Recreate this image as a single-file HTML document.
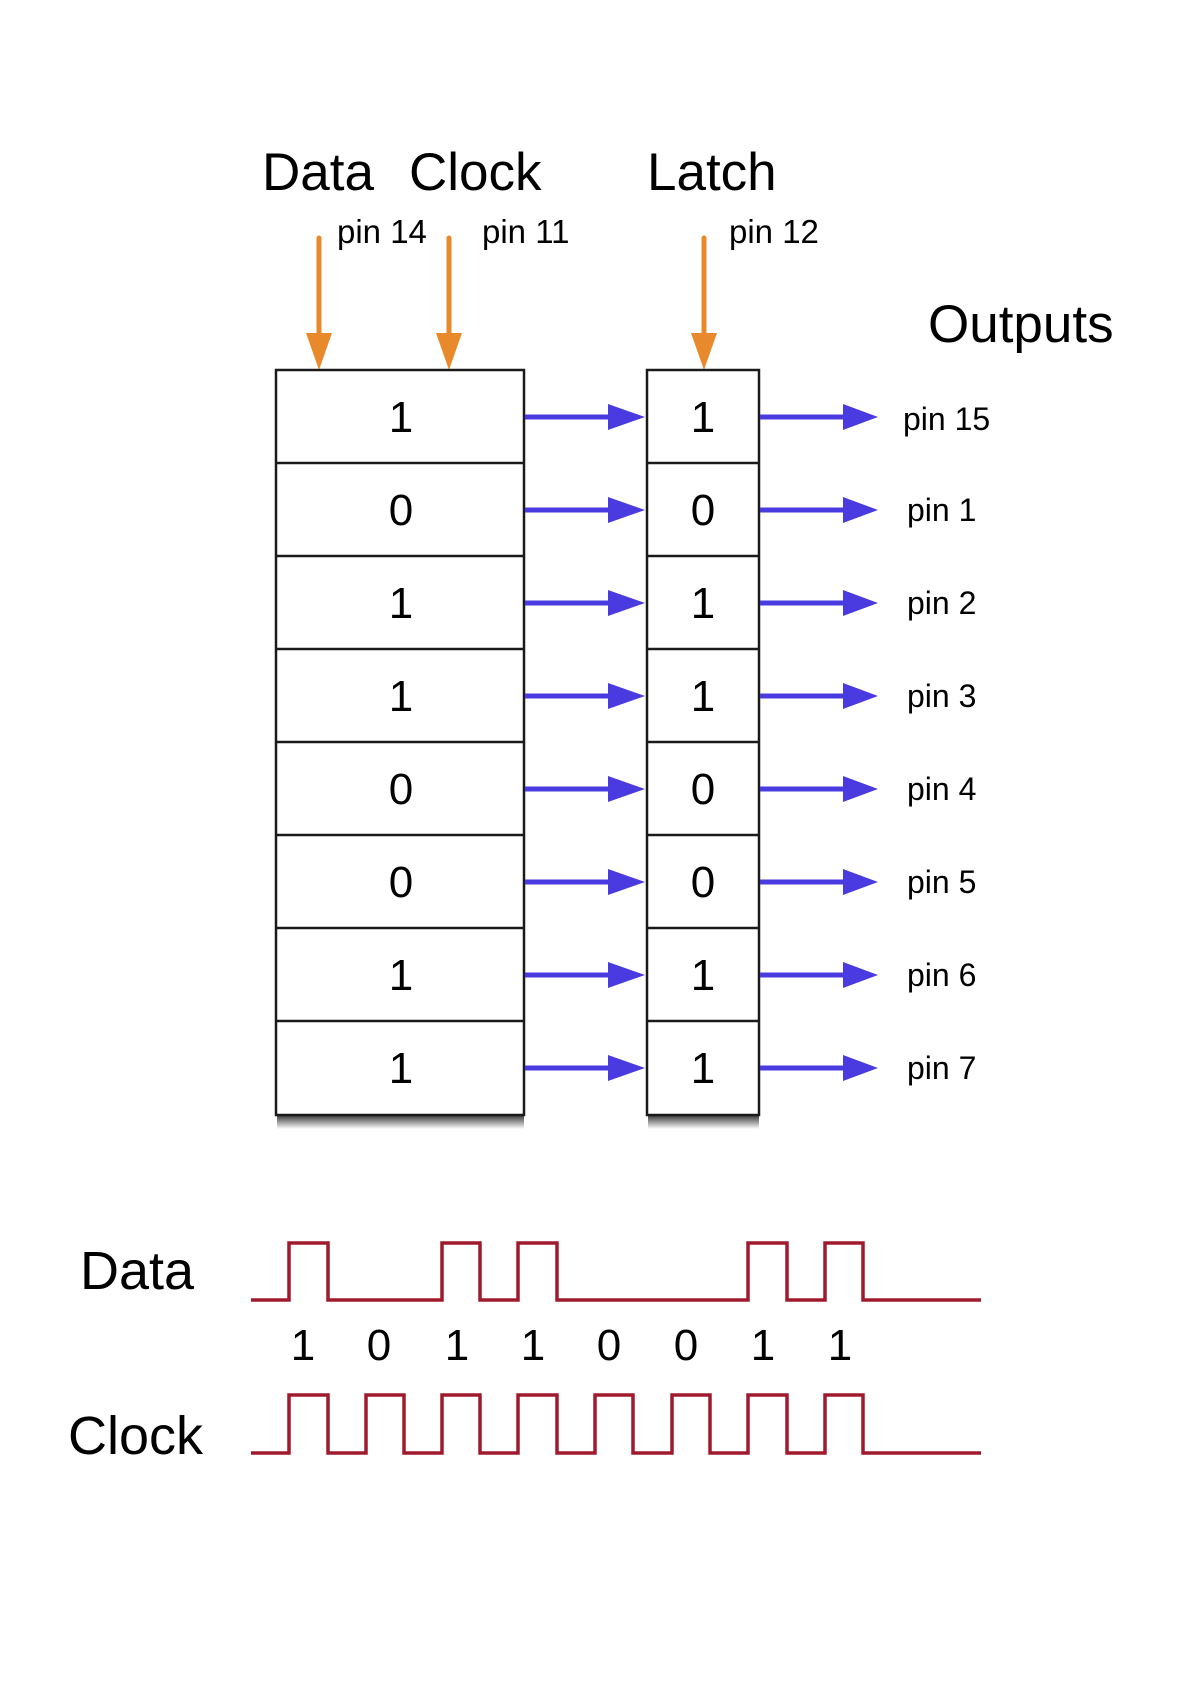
<!DOCTYPE html>
<html><head><meta charset="utf-8"><style>
html,body{margin:0;padding:0;background:#fff;}
svg{display:block;}
text{font-family:"Liberation Sans",sans-serif;fill:#000;}
</style></head><body>
<svg width="1191" height="1684" viewBox="0 0 1191 1684" xmlns="http://www.w3.org/2000/svg">
<defs>
<linearGradient id="sh" x1="0" y1="0" x2="0" y2="1">
<stop offset="0" stop-color="#000" stop-opacity="0.85"/>
<stop offset="1" stop-color="#000" stop-opacity="0"/>
</linearGradient>
</defs>
<text x="262" y="190" font-size="53">Data</text>
<text x="409" y="190" font-size="53">Clock</text>
<text x="647" y="190" font-size="53">Latch</text>
<text x="928" y="342" font-size="53">Outputs</text>
<text x="337" y="243" font-size="33">pin 14</text>
<text x="482" y="243" font-size="33">pin 11</text>
<text x="729" y="243" font-size="33">pin 12</text>
<g stroke="#e8892c" stroke-width="5" stroke-linecap="round">
<line x1="319" y1="238" x2="319" y2="335"/>
<line x1="449" y1="238" x2="449" y2="335"/>
<line x1="704" y1="238" x2="704" y2="335"/>
</g>
<g fill="#e8892c">
<polygon points="306,333 332,333 319,370"/>
<polygon points="436,333 462,333 449,370"/>
<polygon points="691,333 717,333 704,370"/>
</g>
<rect x="277" y="1114" width="247" height="15" fill="url(#sh)"/>
<rect x="648" y="1114" width="111" height="15" fill="url(#sh)"/>
<g fill="#fff" stroke="#1a1a1a" stroke-width="2.5">
<rect x="276" y="370" width="248" height="745"/>
<rect x="647" y="370" width="112" height="745"/>
</g>
<g stroke="#1a1a1a" stroke-width="2.5">
<line x1="276" y1="463" x2="524" y2="463"/><line x1="647" y1="463" x2="759" y2="463"/>
<line x1="276" y1="556" x2="524" y2="556"/><line x1="647" y1="556" x2="759" y2="556"/>
<line x1="276" y1="649" x2="524" y2="649"/><line x1="647" y1="649" x2="759" y2="649"/>
<line x1="276" y1="742" x2="524" y2="742"/><line x1="647" y1="742" x2="759" y2="742"/>
<line x1="276" y1="835" x2="524" y2="835"/><line x1="647" y1="835" x2="759" y2="835"/>
<line x1="276" y1="928" x2="524" y2="928"/><line x1="647" y1="928" x2="759" y2="928"/>
<line x1="276" y1="1021" x2="524" y2="1021"/><line x1="647" y1="1021" x2="759" y2="1021"/>
</g>
<g font-size="44" text-anchor="middle">
<text x="401" y="432">1</text><text x="703" y="432">1</text>
<text x="401" y="525">0</text><text x="703" y="525">0</text>
<text x="401" y="618">1</text><text x="703" y="618">1</text>
<text x="401" y="711">1</text><text x="703" y="711">1</text>
<text x="401" y="804">0</text><text x="703" y="804">0</text>
<text x="401" y="897">0</text><text x="703" y="897">0</text>
<text x="401" y="990">1</text><text x="703" y="990">1</text>
<text x="401" y="1083">1</text><text x="703" y="1083">1</text>
</g>
<g font-size="32">
<text x="903" y="430">pin 15</text>
<text x="907" y="521">pin 1</text>
<text x="907" y="614">pin 2</text>
<text x="907" y="707">pin 3</text>
<text x="907" y="800">pin 4</text>
<text x="907" y="893">pin 5</text>
<text x="907" y="986">pin 6</text>
<text x="907" y="1079">pin 7</text>
</g>
<g stroke="#4a3be0" stroke-width="5" fill="#4a3be0">
<g transform="translate(0,417)"><line x1="525" y1="0" x2="612" y2="0"/><polygon stroke="none" points="608,-13 645,0 608,13"/><line x1="760" y1="0" x2="846" y2="0"/><polygon stroke="none" points="843,-13 878,0 843,13"/></g>
<g transform="translate(0,510)"><line x1="525" y1="0" x2="612" y2="0"/><polygon stroke="none" points="608,-13 645,0 608,13"/><line x1="760" y1="0" x2="846" y2="0"/><polygon stroke="none" points="843,-13 878,0 843,13"/></g>
<g transform="translate(0,603)"><line x1="525" y1="0" x2="612" y2="0"/><polygon stroke="none" points="608,-13 645,0 608,13"/><line x1="760" y1="0" x2="846" y2="0"/><polygon stroke="none" points="843,-13 878,0 843,13"/></g>
<g transform="translate(0,696)"><line x1="525" y1="0" x2="612" y2="0"/><polygon stroke="none" points="608,-13 645,0 608,13"/><line x1="760" y1="0" x2="846" y2="0"/><polygon stroke="none" points="843,-13 878,0 843,13"/></g>
<g transform="translate(0,789)"><line x1="525" y1="0" x2="612" y2="0"/><polygon stroke="none" points="608,-13 645,0 608,13"/><line x1="760" y1="0" x2="846" y2="0"/><polygon stroke="none" points="843,-13 878,0 843,13"/></g>
<g transform="translate(0,882)"><line x1="525" y1="0" x2="612" y2="0"/><polygon stroke="none" points="608,-13 645,0 608,13"/><line x1="760" y1="0" x2="846" y2="0"/><polygon stroke="none" points="843,-13 878,0 843,13"/></g>
<g transform="translate(0,975)"><line x1="525" y1="0" x2="612" y2="0"/><polygon stroke="none" points="608,-13 645,0 608,13"/><line x1="760" y1="0" x2="846" y2="0"/><polygon stroke="none" points="843,-13 878,0 843,13"/></g>
<g transform="translate(0,1068)"><line x1="525" y1="0" x2="612" y2="0"/><polygon stroke="none" points="608,-13 645,0 608,13"/><line x1="760" y1="0" x2="846" y2="0"/><polygon stroke="none" points="843,-13 878,0 843,13"/></g>
</g>
<text x="80" y="1289" font-size="54">Data</text>
<text x="68" y="1454" font-size="54">Clock</text>
<g font-size="44" text-anchor="middle">
<text x="303" y="1360">1</text><text x="379" y="1360">0</text><text x="457" y="1360">1</text><text x="533" y="1360">1</text>
<text x="609" y="1360">0</text><text x="686" y="1360">0</text><text x="763" y="1360">1</text><text x="840" y="1360">1</text>
</g>
<g fill="none" stroke="#a01a2e" stroke-width="3.5">
<polyline points="251,1300 289,1300 289,1243 328,1243 328,1300 442,1300 442,1243 480,1243 480,1300 518,1300 518,1243 557,1243 557,1300 748,1300 748,1243 787,1243 787,1300 825,1300 825,1243 863,1243 863,1300 981,1300"/>
<polyline points="251,1453 289,1453 289,1395 328,1395 328,1453 366,1453 366,1395 404,1395 404,1453 442,1453 442,1395 480,1395 480,1453 518,1453 518,1395 557,1395 557,1453 595,1453 595,1395 633,1395 633,1453 672,1453 672,1395 710,1395 710,1453 748,1453 748,1395 787,1395 787,1453 825,1453 825,1395 863,1395 863,1453 981,1453"/>
</g>
</svg>
</body></html>
